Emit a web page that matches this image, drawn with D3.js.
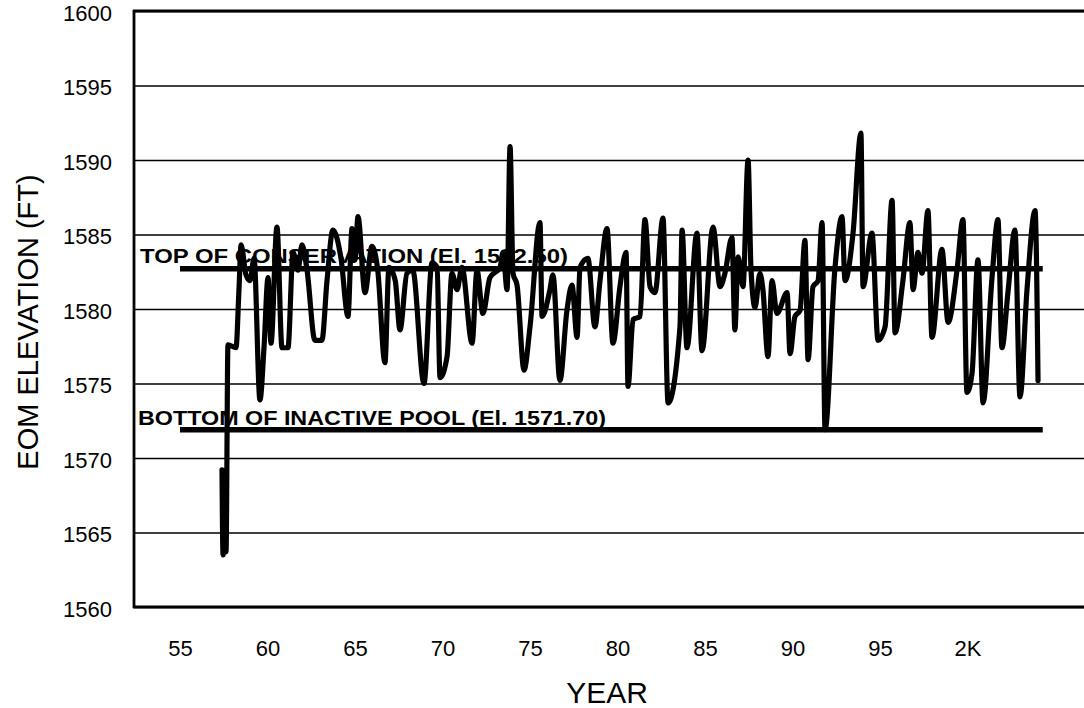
<!DOCTYPE html>
<html><head><meta charset="utf-8">
<script src="https://cdn.jsdelivr.net/npm/d3@7"></script>
<style>
html,body{margin:0;padding:0;background:#fff;}
svg text{font-family:"Liberation Sans",Arial,sans-serif;fill:#000;}
</style></head>
<body><svg id="c" width="1084" height="708"></svg>
<script>
// ---- data ----
const years = [1957.40,1957.46,1957.57,1957.63,1957.74,1958.20,1958.37,1958.49,1958.77,1959.00,1959.23,1959.57,1959.80,1960.03,1960.20,1960.54,1960.83,1961.17,1961.46,1961.74,1961.97,1962.26,1962.71,1963.11,1963.40,1963.74,1964.20,1964.60,1964.83,1965.00,1965.17,1965.57,1965.97,1966.30,1966.71,1966.94,1967.30,1967.57,1967.97,1968.30,1968.94,1969.40,1969.69,1969.86,1970.26,1970.54,1970.83,1971.11,1971.69,1971.97,1972.31,1972.71,1973.29,1973.46,1973.69,1973.86,1974.03,1974.26,1974.66,1975.00,1975.57,1975.69,1976.14,1976.31,1976.71,1977.11,1977.40,1977.69,1977.86,1978.31,1978.71,1979.00,1979.40,1979.74,1980.14,1980.49,1980.60,1980.89,1981.29,1981.57,1981.86,1982.14,1982.60,1982.89,1983.57,1983.69,1983.97,1984.54,1984.83,1985.46,1985.86,1986.14,1986.54,1986.71,1986.89,1987.17,1987.46,1987.63,1987.86,1988.14,1988.31,1988.60,1988.83,1989.11,1989.69,1989.86,1990.14,1990.43,1990.71,1990.89,1991.17,1991.46,1991.69,1991.86,1992.43,1992.83,1993.00,1993.46,1993.91,1994.03,1994.54,1994.89,1995.29,1995.69,1995.86,1996.31,1996.71,1996.89,1997.17,1997.40,1997.74,1997.97,1998.54,1998.89,1999.40,1999.74,1999.97,2000.26,2000.60,2000.89,2001.40,2001.74,2001.97,2002.31,2002.71,2003.00,2003.40,2003.86,2004.03];
const elevation = [1569.2,1563.5,1568.5,1563.7,1577.6,1577.4,1581.3,1584.3,1582.3,1581.9,1583.4,1573.9,1577.4,1582.1,1577.7,1585.5,1577.4,1577.4,1583.8,1582.6,1584.3,1582.6,1577.9,1577.9,1581.9,1585.3,1583.4,1579.5,1585.4,1583.3,1586.2,1581.1,1584.2,1582.6,1576.4,1582.8,1581.9,1578.6,1582.4,1582.6,1575.0,1583.1,1582.8,1575.4,1576.8,1582.4,1581.3,1582.8,1577.7,1582.6,1579.7,1582.1,1582.8,1583.8,1581.3,1590.9,1582.4,1581.6,1575.9,1578.8,1585.8,1579.5,1581.3,1582.3,1575.2,1579.9,1581.6,1578.1,1582.8,1583.4,1578.8,1581.9,1585.4,1577.7,1581.5,1583.8,1574.8,1579.3,1579.5,1586.0,1581.5,1581.1,1586.1,1573.7,1578.8,1585.3,1577.4,1585.1,1577.2,1585.5,1581.5,1582.4,1584.8,1578.6,1583.5,1581.5,1590.0,1582.6,1580.1,1582.4,1581.3,1576.8,1581.9,1579.7,1581.1,1577.0,1579.5,1579.9,1584.6,1576.6,1581.5,1581.9,1585.8,1571.9,1582.8,1586.2,1581.9,1585.1,1591.8,1581.5,1585.1,1577.9,1578.8,1587.3,1578.4,1581.9,1585.8,1581.3,1583.8,1582.4,1586.6,1578.1,1584.0,1579.1,1582.6,1586.0,1574.4,1575.7,1583.3,1573.7,1582.1,1586.0,1577.4,1581.1,1585.3,1574.1,1581.3,1586.6,1575.2];
const yTicks = [1560,1565,1570,1575,1580,1585,1590,1595,1600];
const xTickYears = [1955,1960,1965,1970,1975,1980,1985,1990,1995,2000];
const xTickLabels = ["55","60","65","70","75","80","85","90","95","2K"];
const refLevels = [1582.5, 1571.7];
const refLabels = ["TOP OF CONSERVATION  (El. 1582.50)", "BOTTOM OF INACTIVE POOL (El. 1571.70)"];
const refSpan = [1955.0, 2004.3];

// ---- layout ----
const svg = d3.select("#c");
const plotL = 134, plotR = 1095, plotT = 11, plotB = 607;
const x = d3.scaleLinear().domain([1955, 2000]).range([180, 967.5]);
const y = d3.scaleLinear().domain([1560, 1600]).range([plotB, plotT]);

// gridlines
svg.append("g").attr("transform", `translate(${plotL},0)`)
  .call(d3.axisLeft(y).tickValues(yTicks).tickSize(-(plotR-plotL)).tickFormat(""))
  .call(g => g.select(".domain").remove())
  .call(g => g.selectAll("line").attr("stroke","#000").attr("stroke-width",1.7));

// frame
svg.append("line").attr("x1",plotL).attr("x2",plotL).attr("y1",plotT-1).attr("y2",plotB+1).attr("stroke","#000").attr("stroke-width",2.8);
svg.append("line").attr("x1",plotL-1).attr("x2",plotR).attr("y1",plotB).attr("y2",plotB).attr("stroke","#000").attr("stroke-width",2.8);
svg.append("line").attr("x1",plotL-1).attr("x2",plotR).attr("y1",plotT).attr("y2",plotT).attr("stroke","#000").attr("stroke-width",2.8);

// y tick labels
svg.append("g").attr("transform", `translate(${plotL},2)`)
  .call(d3.axisLeft(y).tickValues(yTicks).tickSize(0).tickPadding(22).tickFormat(d3.format("d")))
  .call(g => g.select(".domain").remove())
  .call(g => g.selectAll("text").style("font-size","22px").attr("fill","#000"));

// x tick labels
svg.append("g").attr("transform", `translate(0,${plotB})`)
  .call(d3.axisBottom(x).tickValues(xTickYears).tickSize(0).tickPadding(33).tickFormat((d,i)=>xTickLabels[i]))
  .call(g => g.select(".domain").remove())
  .call(g => g.selectAll("text").style("font-size","22px").attr("fill","#000"));

// reference lines
refLevels.forEach((lv,i) => {
  svg.append("line").attr("x1",x(refSpan[0])).attr("x2",x(refSpan[1]))
    .attr("y1",y(lv)-3).attr("y2",y(lv)-3).attr("stroke","#000").attr("stroke-width",5.5);
});

// data line
const pts = years.map((t,i)=>[t, elevation[i]]);
svg.append("path").datum(pts)
  .attr("fill","none").attr("stroke","#000").attr("stroke-width",5.2)
  .attr("stroke-linejoin","round").attr("stroke-linecap","round")
  .attr("d", d3.line().x(d=>x(d[0])).y(d=>y(d[1])).curve(d3.curveMonotoneX));

// reference labels
svg.append("text").attr("x",140).attr("y",263).attr("textLength",428).attr("lengthAdjust","spacingAndGlyphs")
  .style("font-size","21px").style("font-weight","bold").text(refLabels[0]);
svg.append("text").attr("x",138).attr("y",425).attr("textLength",468).attr("lengthAdjust","spacingAndGlyphs")
  .style("font-size","21px").style("font-weight","bold").text(refLabels[1]);

// axis titles
svg.append("text").attr("x",607).attr("y",703).attr("text-anchor","middle").style("font-size","30px").text("YEAR");
svg.append("text").attr("transform","translate(38,322) rotate(-90)").attr("text-anchor","middle").style("font-size","29px").text("EOM ELEVATION (FT)");
</script></body></html>
